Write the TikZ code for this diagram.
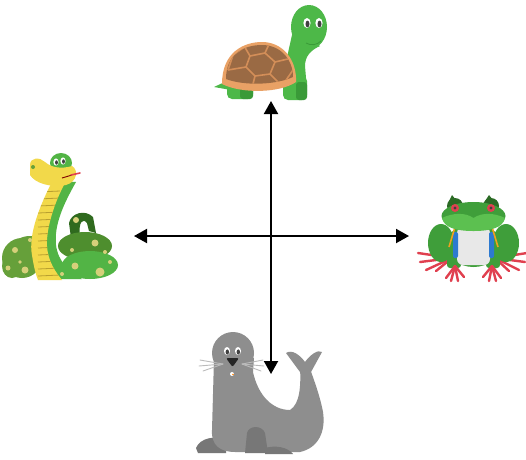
\documentclass[tikz,border=0pt]{standalone}
\usetikzlibrary{arrows.meta}
\definecolor{tgreen}{HTML}{4DB848}
\definecolor{tdgreen}{HTML}{3A9A38}
\definecolor{shellb}{HTML}{9A6A44}
\definecolor{shellr}{HTML}{E9A165}
\definecolor{shelll}{HTML}{D38E58}
\definecolor{syellow}{HTML}{F2D94A}
\definecolor{sstripe}{HTML}{B9A030}
\definecolor{sgreen}{HTML}{52B445}
\definecolor{solive}{HTML}{66A03A}
\definecolor{smid}{HTML}{4E8E2E}
\definecolor{sdark}{HTML}{2F6A1E}
\definecolor{sspot}{HTML}{D5D07A}
\definecolor{fgreen}{HTML}{3F9E3A}
\definecolor{flight}{HTML}{5CC050}
\definecolor{fdark}{HTML}{2B6B25}
\definecolor{fred}{HTML}{E0404F}
\definecolor{fblue}{HTML}{2D7AD0}
\definecolor{forange}{HTML}{F0A020}
\definecolor{fwhite}{HTML}{E8E8E8}
\definecolor{seal}{HTML}{8E8E8E}
\definecolor{sealdk}{HTML}{777777}
\definecolor{whisk}{HTML}{BBBBBB}
\tikzset{
  axis/.style={line width=2pt, black, {Triangle[length=13pt,width=14pt]}-{Triangle[length=13pt,width=14pt]}},
  toe/.style={fred, line width=2.4pt, line cap=round},
  whisker/.style={whisk, line width=0.9pt, line cap=round},
  shellline/.style={shelll, line width=1.6pt, line join=round},
  pupil/.style={fill=black!75}
}
\begin{document}
\begin{tikzpicture}[x=1pt,y=-1pt]
\useasboundingbox (0,0) rectangle (526,459);
\fill[white] (0,0) rectangle (526,459);

% ---------- Turtle ----------
\fill[tgreen] (229,80) -- (214,87) -- (231,90) -- cycle;
\fill[tgreen, rounded corners=5] (227,80) rectangle (253,99);
\fill[tdgreen, rounded corners=3] (240,84) rectangle (253,99);
\fill[tgreen] (293,30) .. controls (289,50) and (284,65) .. (284,90) -- (307,90)
  -- (305,66) .. controls (305,56) and (311,50) .. (320,46) -- cycle;
\fill[tgreen, rounded corners=5] (283,76) rectangle (307,100);
\fill[tdgreen, rounded corners=3] (296,82) rectangle (307,100);
\fill[tgreen] (309,27) ellipse [x radius=18, y radius=22];
\draw[tdgreen, line width=0.8pt] (306,43) .. controls (311,46) and (317,45) .. (321,41);
\fill[white] (307,23) ellipse [x radius=3.6, y radius=5];
\fill[white] (319,23) ellipse [x radius=3.6, y radius=5];
\fill[pupil] (307.5,24) ellipse [x radius=2, y radius=3.4];
\fill[pupil] (319.5,24) ellipse [x radius=2, y radius=3.4];
% shell
\fill[shellr] (222,84) .. controls (222,52) and (244,42) .. (262,42)
  .. controls (283,42) and (297,60) .. (296,82)
  .. controls (280,93) and (242,94) .. (222,84) -- cycle;
\path[save path=\shellpath] (226,79) .. controls (226,53) and (245,45) .. (262,45)
  .. controls (281,45) and (293,60) .. (293,77)
  .. controls (276,85) and (244,86) .. (226,79) -- cycle;
\begin{scope}
\fill[shellb, use path=\shellpath];
\clip[use path=\shellpath];
\draw[shellline] (250,56) -- (265,53) -- (275,62) -- (270,74) -- (255,76) -- (246,67) -- cycle;
\draw[shellline] (250,56) -- (243,44) (265,53) -- (270,42) (275,62) -- (292,58)
  (270,74) -- (282,86) (255,76) -- (252,88) (246,67) -- (228,70);
\draw[shellline] (243,48) -- (233,55) -- (228,70) (282,86) -- (293,70);
\end{scope}

% ---------- Snake ----------
\fill[solive] (22,258) ellipse [x radius=20, y radius=20];
\fill[solive] (12,266) ellipse [x radius=10, y radius=12];
\fill[solive] (30,246) ellipse [x radius=16, y radius=10];
\fill[sdark] (71,238) -- (69,223) .. controls (71,213) and (85,209) .. (93,217)
  -- (96,233) -- (89,231) -- (87,223) .. controls (83,218) and (78,221) .. (80,238) -- cycle;
\fill[sspot] (76,220) circle [radius=3];
\fill[smid] (85,246) ellipse [x radius=27, y radius=14];
\fill[sgreen] (90,265) ellipse [x radius=28, y radius=14];
\fill[sgreen] (52,181) -- (76,182) .. controls (63,205) and (54,225) .. (56,245)
  .. controls (58,262) and (70,272) .. (82,279) -- (38,279) -- cycle;
\path[save path=\bellypath] (52,182) .. controls (40,205) and (28,235) .. (32,255)
  .. controls (34,268) and (36,275) .. (38,280) -- (62,280)
  .. controls (52,268) and (46,255) .. (47,240) .. controls (48,222) and (56,200) .. (64,185) -- cycle;
\begin{scope}
\fill[syellow, use path=\bellypath];
\clip[use path=\bellypath];
\foreach \yy in {192,199,...,276} \draw[sstripe, line width=0.8pt] (38,\yy) -- (60,\yy-1);
\end{scope}
\foreach \p/\r in {{(15,250)}/3,{(8,268)}/2.5,{(25,270)}/3.5,{(30,240)}/2,{(20,262)}/1.8,{(95,243)}/3.5,{(72,250)}/2,{(105,252)}/2,{(75,266)}/3.5,{(100,272)}/4.5,{(110,262)}/2,{(62,274)}/2}
  \fill[sspot] \p circle [radius=\r];
% head
\fill[sgreen] (61,163) ellipse [x radius=11, y radius=10];
\fill[syellow] (30,165) .. controls (30,157) and (40,157) .. (45,162)
  .. controls (52,168) and (62,169) .. (72,166)
  .. controls (79,170) and (77,182) .. (66,185)
  .. controls (50,188) and (35,183) .. (30,175) -- cycle;
\fill[solive] (33,167) circle [radius=2];
\fill[white] (56,162) ellipse [x radius=2.6, y radius=3.6];
\fill[white] (63,161) ellipse [x radius=2.6, y radius=3.6];
\fill[pupil] (56.5,162.5) ellipse [x radius=1.4, y radius=2.2];
\fill[pupil] (63.5,161.5) ellipse [x radius=1.4, y radius=2.2];
\draw[red!50!black, line width=0.9pt] (62,178) -- (72,175);
\draw[fred, line width=1.6pt, line cap=round] (71,175) -- (80,173);

% ---------- Frog ----------
\foreach \tx/\ty in {418/253,420/262,426/270,436/271} \draw[toe] (452,258) -- (\tx,\ty);
\foreach \tx/\ty in {527/253,525/262,519/270,509/271} \draw[toe] (495,258) -- (\tx,\ty);
\fill[fgreen] (441,243) ellipse [x radius=13, y radius=19];
\fill[fgreen] (506,243) ellipse [x radius=13, y radius=19];
\fill[fgreen] (473.5,245) ellipse [x radius=27, y radius=22];
\fill[fgreen, rounded corners=3] (447,245) rectangle (461,268);
\fill[fgreen, rounded corners=3] (486,245) rectangle (500,268);
\fill[fwhite, rounded corners=6] (457,227) rectangle (490,265);
\fill[fblue, rounded corners=2] (453,232) rectangle (458,258);
\fill[fblue, rounded corners=2] (489,232) rectangle (494,258);
\draw[forange, line width=1.6pt] (455,227) -- (449,247);
\draw[forange, line width=1.6pt] (492,227) -- (498,247);
\foreach \tx/\ty in {446/278,451/281,458/281,464/277} \draw[toe] (455,266) -- (\tx,\ty);
\foreach \tx/\ty in {483/277,489/281,496/281,501/278} \draw[toe] (492,266) -- (\tx,\ty);
\fill[fdark] (455,206) ellipse [x radius=8, y radius=8];
\fill[fdark] (491,206) ellipse [x radius=8, y radius=8];
\fill[fdark] (449,201) -- (452,195) -- (456,200) -- cycle;
\fill[fdark] (485,201) -- (489,195) -- (493,200) -- cycle;
\fill[fgreen] (473.5,216) ellipse [x radius=32, y radius=14];
\fill[flight] (442,218) .. controls (452,213) and (465,212) .. (473.5,218)
  .. controls (482,212) and (495,213) .. (505,218)
  .. controls (503,228) and (490,231) .. (473.5,231)
  .. controls (457,231) and (444,228) .. (442,218) -- cycle;
\fill[fred] (455,208) circle [radius=4];
\fill[fred] (491,208) circle [radius=4];
\fill[pupil] (455,208) circle [radius=1.6];
\fill[pupil] (491,208) circle [radius=1.6];

% ---------- Seal ----------
\fill[sealdk] (196,448) .. controls (200,438) and (215,435) .. (226,440) -- (226,453) -- (198,453) -- cycle;
\fill[seal] (214,358) -- (212,430) .. controls (211,445) and (220,452) .. (235,452)
  -- (300,452) .. controls (318,448) and (326,432) .. (323,412)
  .. controls (320,396) and (314,380) .. (309,366) -- (300,368)
  .. controls (301,385) and (300,404) .. (290,410)
  .. controls (272,410) and (258,395) .. (253,372) -- (254,358) -- cycle;
\fill[seal] (300,372) -- (286,353) .. controls (292,349) and (300,355) .. (305,362)
  .. controls (310,355) and (318,349) .. (322,352) -- (311,372) -- cycle;
\fill[seal] (233,353) ellipse [x radius=21, y radius=21];
\fill[sealdk] (247,433) .. controls (249,425) and (262,425) .. (265,433) -- (268,453) -- (245,453) -- cycle;
\fill[sealdk] (265,448) .. controls (275,445) and (288,447) .. (293,454) -- (265,454) -- cycle;
\foreach \tx/\ty in {200/360,199/366,203/371} \draw[whisker] (223,364) -- (\tx,\ty);
\foreach \tx/\ty in {263/360,264/366,261/371} \draw[whisker] (242,364) -- (\tx,\ty);
\fill[white] (227,351) ellipse [x radius=3, y radius=4];
\fill[white] (238,351) ellipse [x radius=3, y radius=4];
\fill[pupil] (227.3,352) ellipse [x radius=1.7, y radius=2.6];
\fill[pupil] (238.3,352) ellipse [x radius=1.7, y radius=2.6];
\fill[black!85, rounded corners=2] (226,358) -- (239,358) -- (232.5,367) -- cycle;
\fill[white] (232,374) circle [radius=2];
\fill[orange] (233,374.5) circle [radius=0.9];

% ---------- Axes ----------
\coordinate (top) at (271,101);
\coordinate (bot) at (271,374);
\coordinate (lft) at (134,236);
\coordinate (rgt) at (409,236);
\draw[axis] (top) -- (bot);
\draw[axis] (lft) -- (rgt);
\end{tikzpicture}
\end{document}
